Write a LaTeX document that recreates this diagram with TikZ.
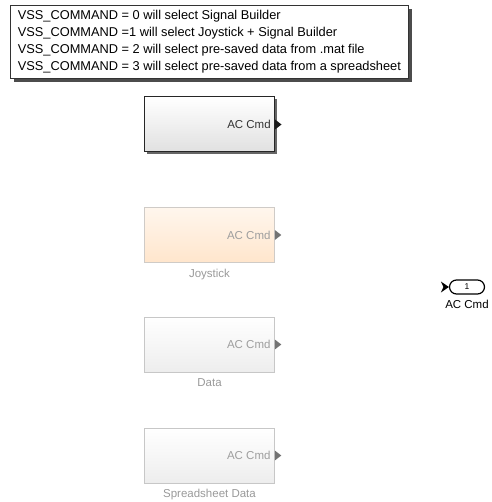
\documentclass[tikz,border=0pt]{standalone}
\usepackage{fontspec}
\setmainfont{Liberation Sans}
\usetikzlibrary{shadows, positioning}

\begin{document}
\begin{tikzpicture}[x=1pt, y=-1pt, font=\fontsize{11.5}{13}\selectfont, line width=0.6pt,
  block/.style={draw=black!85, top color=white, bottom color=black!12,
    minimum width=130pt, minimum height=55pt, inner sep=0pt},
  faded/.style={draw=black!22, top color=white, bottom color=black!7},
  portname/.style={text=black!80, inner sep=0pt},
  fadedname/.style={text=black!38, inner sep=0pt},
  caption/.style={text=black!40, inner sep=0pt}]

  \useasboundingbox (0,0) rectangle (491,502);

  % Note box
  \node[draw=black!80, fill=white, line width=0.8pt, align=left, anchor=north west,
        inner xsep=5pt, inner ysep=3pt, font=\fontsize{12.8}{17}\selectfont,
        minimum width=398pt, minimum height=73pt,
        drop shadow={shadow xshift=3.5pt, shadow yshift=-3.5pt, fill=black!70, opacity=1}]
    (note) at (10,5)
    {VSS\_COMMAND = 0 will select Signal Builder\\
     VSS\_COMMAND =1 will select Joystick + Signal Builder\\
     VSS\_COMMAND = 2 will select pre-saved data from .mat file\\
     VSS\_COMMAND = 3 will select pre-saved data from a spreadsheet};

  % Subsystem blocks
  \node[block, line width=1pt,
        drop shadow={shadow xshift=2pt, shadow yshift=-2pt, fill=black!60, opacity=1}]
    (sig) at (209.5,124.5) {};
  \node[block, faded, draw=orange!15!black!22, top color=orange!7, bottom color=orange!20]
    (joy) at (209.5,235) {};
  \node[block, faded] (dat) at (209.5,344.5) {};
  \node[block, faded] (sheet) at (209.5,455.5) {};

  % Port names and output ports
  \node[portname, left=4pt of sig.east] {AC Cmd};
  \fill[black!90] (sig.east) ++(0,-5) -- ++(6.5,5) -- ++(-6.5,5) -- cycle;
  \foreach \b in {joy, dat, sheet} {
    \node[fadedname, left=4pt of \b.east] {AC Cmd};
    \fill[black!55] (\b.east) ++(0,-5) -- ++(6.5,5) -- ++(-6.5,5) -- cycle;
  }

  % Block names
  \node[caption, below=6pt of joy] {Joystick};
  \node[caption, below=6pt of dat] {Data};
  \node[caption, below=6pt of sheet] {Spreadsheet Data};

  % Outport
  \node[draw, line width=1.2pt, rounded corners=7pt, minimum width=35pt,
        minimum height=14pt, inner sep=0pt, font=\fontsize{8.5}{9}\selectfont]
    (out) at (467,287) {1};
  \fill (out.west) -- ++(-8,-5.5) -- ++(2.5,5.5) -- ++(-2.5,5.5) -- cycle;
  \node[below=5pt of out, inner sep=0pt] {AC Cmd};

\end{tikzpicture}
\end{document}
